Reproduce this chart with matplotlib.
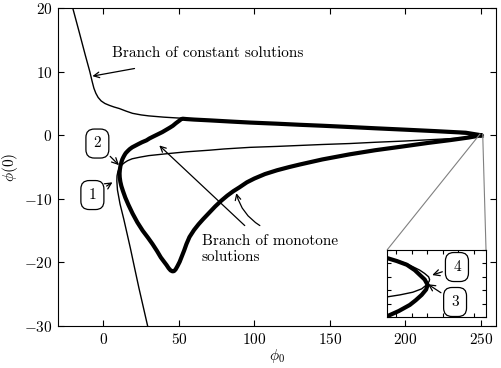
import numpy as np
import matplotlib
matplotlib.use("Agg")
import matplotlib.pyplot as plt
from matplotlib.ticker import MultipleLocator
from mpl_toolkits.axes_grid1.inset_locator import mark_inset

plt.rcParams['font.family'] = 'serif'
plt.rcParams['font.serif'] = ['cmr10']
plt.rcParams['mathtext.fontset'] = 'cm'
plt.rcParams['axes.formatter.use_mathtext'] = True

# Branch of constant solutions (thin)
const_x = [-21.5, -20.3, -16.0, -12.0, -9.0, -7.5, -6.3, -5.0, -3.5, -1.5, 1.0, 4.0, 7.0, 10.6,
           15.0, 19.3, 25.0, 30.0, 40.0, 50.5, 70.0, 97.0, 130.0, 163.0, 200.0, 230.0, 245.0, 250.3,
           240.0, 220.0, 200.0, 180.0, 163.0, 145.0, 130.0, 115.0, 97.0, 80.0, 70.0, 55.0, 42.0,
           30.0, 24.0, 19.0, 16.0, 14.0, 12.0, 10.6, 9.6, 9.0, 8.9, 9.3, 11.0, 13.5, 15.7, 17.9,
           20.5, 23.5, 26.5, 29.3, 31.0]
const_y = [21.0, 20.0, 16.2, 12.6, 10.0, 8.5, 7.4, 6.6, 5.95, 5.4, 5.0, 4.7, 4.45, 4.2,
           3.8, 3.45, 3.2, 3.05, 2.85, 2.7, 2.35, 2.0, 1.65, 1.3, 0.85, 0.42, 0.14, 0.0,
           -0.4, -0.65, -0.9, -1.1, -1.3, -1.45, -1.6, -1.75, -1.9, -2.15, -2.35, -2.6, -2.9,
           -3.2, -3.45, -3.7, -4.0, -4.3, -4.7, -5.1, -5.7, -6.4, -7.2, -8.6, -10.8, -13.2, -15.5, -17.8,
           -20.7, -24.0, -27.1, -30.0, -32.0]

# Branch of monotone solutions (thick)
mono_x = [250.3, 240.0, 220.0, 200.0, 180.0, 163.0, 145.0, 130.0, 115.0, 97.0, 85.0, 70.0, 60.0,
          55.0, 52.6, 51.6, 50.0, 48.0, 46.0, 44.0, 41.5, 39.0, 36.0, 33.0, 30.5, 28.5, 25.5, 23.0,
          21.0, 19.0, 17.3, 16.0, 14.8, 14.0, 13.2, 12.5, 11.9, 11.3, 10.9, 10.7, 10.8, 11.2, 11.9,
          13.0, 14.5, 16.5, 19.3, 22.5, 26.0, 29.5, 32.5, 35.5, 38.0, 40.2, 41.8, 43.2, 44.5, 45.8,
          46.8, 47.8, 49.0, 50.5, 52.0, 53.5, 55.0, 57.0, 60.0, 63.0, 66.0, 70.0, 74.0, 78.0, 82.0,
          86.0, 90.0, 95.0, 100.0, 107.0, 115.0, 123.0, 130.0, 145.0, 163.0, 180.0, 197.0, 215.0,
          230.0, 242.0, 250.3]
mono_y = [0.0, 0.4, 0.65, 0.88, 1.1, 1.3, 1.5, 1.65, 1.82, 2.0, 2.15, 2.35, 2.47,
          2.55, 2.6, 2.55, 2.25, 1.9, 1.5, 1.2, 0.85, 0.5, 0.15, -0.2, -0.5, -0.8, -1.1, -1.4,
          -1.65, -1.9, -2.2, -2.5, -2.8, -3.1, -3.45, -3.8, -4.25, -4.8, -5.4, -6.0, -6.6, -7.3, -8.0,
          -8.8, -9.8, -10.9, -12.3, -13.7, -15.0, -16.1, -17.1, -18.2, -19.2, -19.9, -20.4, -20.9, -21.25, -21.4,
          -21.35, -21.1, -20.6, -19.9, -19.0, -18.1, -17.1, -16.0, -14.9, -14.0, -13.2, -12.2, -11.2, -10.3, -9.5,
          -8.8, -8.2, -7.4, -6.8, -6.1, -5.5, -5.0, -4.6, -3.8, -3.0, -2.35, -1.8, -1.2,
          -0.75, -0.35, 0.0]

# Inset detail near the turning points
ins_mono_x = [249.52, 249.6, 249.76, 249.92, 250.048, 250.128, 250.208, 250.256, 250.232, 250.16,
              250.064, 249.968, 249.792, 249.6, 249.52]
ins_mono_y = [0.205, 0.19, 0.1675, 0.14, 0.10, 0.065, 0.03, -0.01, -0.045, -0.085, -0.125, -0.16,
              -0.205, -0.245, -0.26]
ins_const_x = [249.52, 249.6, 249.808, 250.016, 250.16, 250.24, 250.28, 250.288, 250.272, 250.208,
               250.128, 249.92, 249.76, 249.6, 249.52]
ins_const_y = [-0.105, -0.1, -0.085, -0.065, -0.04, -0.01, 0.015, 0.03, 0.05, 0.075, 0.10, 0.1475,
               0.1725, 0.19, 0.2]

FS = 11
fig = plt.figure(figsize=(5.01, 3.68), dpi=100)
ax = fig.add_axes([0.116, 0.114, 0.874, 0.864])
ax.plot(const_x, const_y, color='black', lw=1.0)
ax.plot(mono_x, mono_y, color='black', lw=3.0, solid_joinstyle='round', solid_capstyle='round')
ax.set_xlim(-30, 260)
ax.set_ylim(-30, 20)
ax.set_xticks([0, 50, 100, 150, 200, 250])
ax.set_yticks([-30, -20, -10, 0, 10, 20])
ax.tick_params(direction='in', top=True, right=True, labelsize=FS, length=4, pad=4)
ax.set_xlabel(r'$\phi_0$', fontsize=FS, labelpad=0)
ax.set_ylabel(r'$\phi(0)$', fontsize=FS, labelpad=3)

arr = dict(arrowstyle='->', color='black', lw=0.9, shrinkA=0, shrinkB=0)
ax.text(6, 12.9, 'Branch of constant solutions', fontsize=FS, va='center', ha='left')
ax.annotate('', xy=(-7.3, 9.3), xytext=(20.6, 10.5), arrowprops=arr)
ax.text(65, -17.9, 'Branch of monotone\nsolutions', fontsize=FS, va='center', ha='left',
        linespacing=1.15)
ax.annotate('', xy=(37, -1.6), xytext=(93.6, -14.2), arrowprops=arr)
ax.annotate('', xy=(88, -9.1), xytext=(103.6, -14.2),
            arrowprops=dict(arr, connectionstyle='arc3,rad=-0.2'))

boxp = dict(boxstyle='round,pad=0.5,rounding_size=0.55', fc='white', ec='black', lw=0.9)
ax.annotate('1', xy=(6, -7.4), xytext=(-7.3, -9.4), fontsize=FS, ha='center', va='center',
            bbox=boxp, arrowprops=dict(arrowstyle='->', color='black', lw=0.9, shrinkB=0))
ax.annotate('2', xy=(10.3, -4.7), xytext=(-4, -1.3), fontsize=FS, ha='center', va='center',
            bbox=boxp, arrowprops=dict(arrowstyle='->', color='black', lw=0.9, shrinkB=0))

axins = fig.add_axes([0.7725, 0.1386, 0.1976, 0.182])
axins.plot(ins_const_x, ins_const_y, color='black', lw=1.0)
axins.plot(ins_mono_x, ins_mono_y, color='black', lw=3.0)
axins.set_xlim(249.6, 251.2)
axins.set_ylim(-0.25, 0.25)
axins.xaxis.set_major_locator(MultipleLocator(0.25))
axins.yaxis.set_major_locator(MultipleLocator(0.1, offset=0.05))
axins.tick_params(direction='in', top=True, right=True, labelbottom=False, labelleft=False, length=3)
axins.annotate('4', xy=(250.33, 0.063), xytext=(250.73, 0.123), fontsize=FS, ha='center', va='center',
               bbox=boxp, arrowprops=dict(arrowstyle='->', color='black', lw=0.9, shrinkB=0))
axins.annotate('3', xy=(250.26, -0.005), xytext=(250.70, -0.138), fontsize=FS, ha='center', va='center',
               bbox=boxp, arrowprops=dict(arrowstyle='->', color='black', lw=0.9, shrinkB=0))
mark_inset(ax, axins, loc1=2, loc2=1, fc='none', ec='0.5', lw=0.8)

fig.savefig('out.png', dpi=100)
